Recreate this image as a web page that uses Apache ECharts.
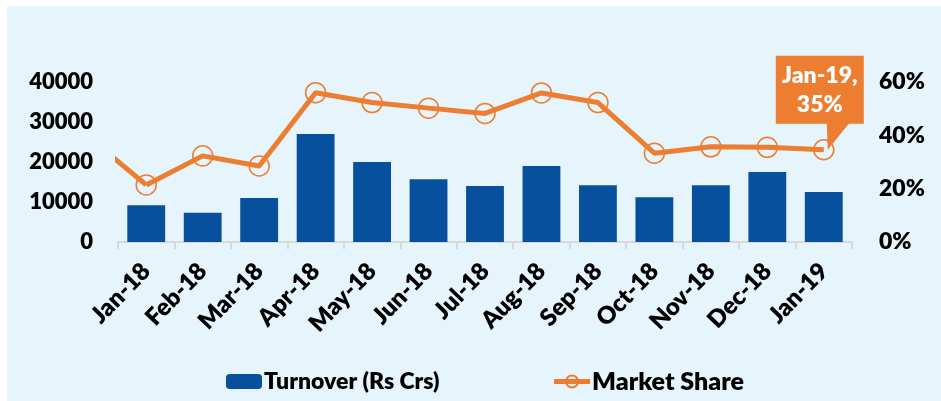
<!DOCTYPE html>
<html>
<head>
<meta charset="utf-8">
<script src="https://cdn.jsdelivr.net/npm/echarts@6/dist/echarts.min.js"></script>
<style>
  html, body { margin: 0; padding: 0; background: #ffffff; }
  #chart { position: absolute; left: 7px; top: 6px; width: 934px; height: 395px; background: #E6F4FB; }
</style>
</head>
<body>
<div id="chart"></div>
<script>
// 月份
const months = ["Jan-18", "Feb-18", "Mar-18", "Apr-18", "May-18", "Jun-18", "Jul-18",
  "Aug-18", "Sep-18", "Oct-18", "Nov-18", "Dec-18", "Jan-19"];
// 成交额 (Rs Crs)
const turnover = [9200, 7300, 11000, 27000, 20000, 15700, 14000, 19000, 14200, 11200, 14200, 17500, 12500];
// 市场份额 (%)
const marketShare = [21.4, 32.3, 28.5, 56.0, 52.3, 50.2, 48.2, 55.9, 52.3, 33.3, 35.7, 35.5, 34.6];
// 上一个月的份额，只用来画左边露出来的那段线
const prevShare = [39];
const leftTicks = [0, 10000, 20000, 30000, 40000];
const rightTicks = [0, 20, 40, 60];

const orange = "#ED7D31";
const blue = "#07509E";
const font = "Lato, 'Open Sans', sans-serif";

const last = months.length - 1;
const myChart = echarts.init(document.getElementById("chart"));
const option = {
  animation: false,
  textStyle: { fontFamily: font },
  grid: { left: 111, right: 89, top: 76, bottom: 159, containLabel: false },
  legend: {
    left: 219,
    top: 363,
    padding: 0,
    itemWidth: 36,
    itemHeight: 15,
    itemGap: 112,
    lineStyle: { width: 5 },
    textStyle: { fontSize: 23, fontWeight: 800, color: "#000", fontFamily: font, padding: [0, 0, 0, -3] },
    data: [
      { name: "Turnover (Rs Crs)" },
      { name: "Market Share", textStyle: { fontSize: 25 } }
    ]
  },
  xAxis: [
    {
      type: "category",
      data: months,
      boundaryGap: true,
      axisLine: { lineStyle: { color: "#D9D9D9", width: 2 } },
      axisTick: { show: true, length: 7, lineStyle: { color: "#D9D9D9", width: 2 } },
      axisLabel: { rotate: 46, margin: 25, fontSize: 24, fontWeight: 800, color: "#000", fontFamily: font, interval: 0 }
    },
    {
      // 隐藏的数值轴，画前一个月的那段线
      type: "value",
      min: -0.5,
      max: months.length - 0.5,
      show: false
    }
  ],
  yAxis: [
    {
      type: "value",
      min: leftTicks[0],
      max: leftTicks[leftTicks.length - 1],
      interval: leftTicks[1] - leftTicks[0],
      axisLine: { show: false },
      axisTick: { show: false },
      splitLine: { show: false },
      axisLabel: { margin: 25, fontSize: 22, fontWeight: 800, color: "#000", fontFamily: font, formatter: v => String(v) }
    },
    {
      type: "value",
      min: rightTicks[0],
      max: rightTicks[rightTicks.length - 1],
      interval: rightTicks[1] - rightTicks[0],
      axisLine: { show: false },
      axisTick: { show: false },
      splitLine: { show: false },
      axisLabel: { margin: 27, fontSize: 23, fontWeight: 800, color: "#000", fontFamily: font, formatter: "{value}%" }
    }
  ],
  series: [
    {
      name: "Turnover (Rs Crs)",
      type: "bar",
      data: turnover,
      barCategoryGap: "33%",
      itemStyle: { color: blue }
    },
    {
      name: "lead-in",
      type: "line",
      xAxisIndex: 1,
      yAxisIndex: 1,
      data: [[-1, prevShare[0]], [0, marketShare[0]]],
      clip: true,
      symbol: "none",
      silent: true,
      lineStyle: { color: orange, width: 5 },
      z: 3
    },
    {
      name: "Market Share",
      type: "line",
      yAxisIndex: 1,
      data: marketShare,
      symbol: "circle",
      symbolSize: 20,
      z: 4,
      lineStyle: { color: orange, width: 5 },
      itemStyle: { color: "rgba(0,0,0,0)", borderColor: orange, borderWidth: 1.5 },
      markPoint: {
        data: [{ coord: [months[last], marketShare[last]] }],
        symbol: "path://M0,0 L88,0 L88,68 L73,68 L52,94 L51,68 L0,68 Z",
        symbolSize: [88, 94],
        symbolOffset: [-4, -47],
        itemStyle: { color: orange, borderWidth: 0 },
        label: {
          show: true,
          position: "inside",
          offset: [0, -13],
          color: "#fff",
          fontSize: 23,
          fontWeight: 800,
          fontFamily: font,
          lineHeight: 29,
          align: "center",
          formatter: () => months[last] + ",\n" + Math.round(marketShare[last]) + "%"
        }
      }
    }
  ]
};
myChart.setOption(option, true);
window.addEventListener("resize", () => {
  myChart.resize();
});
</script>
</body>
</html>
